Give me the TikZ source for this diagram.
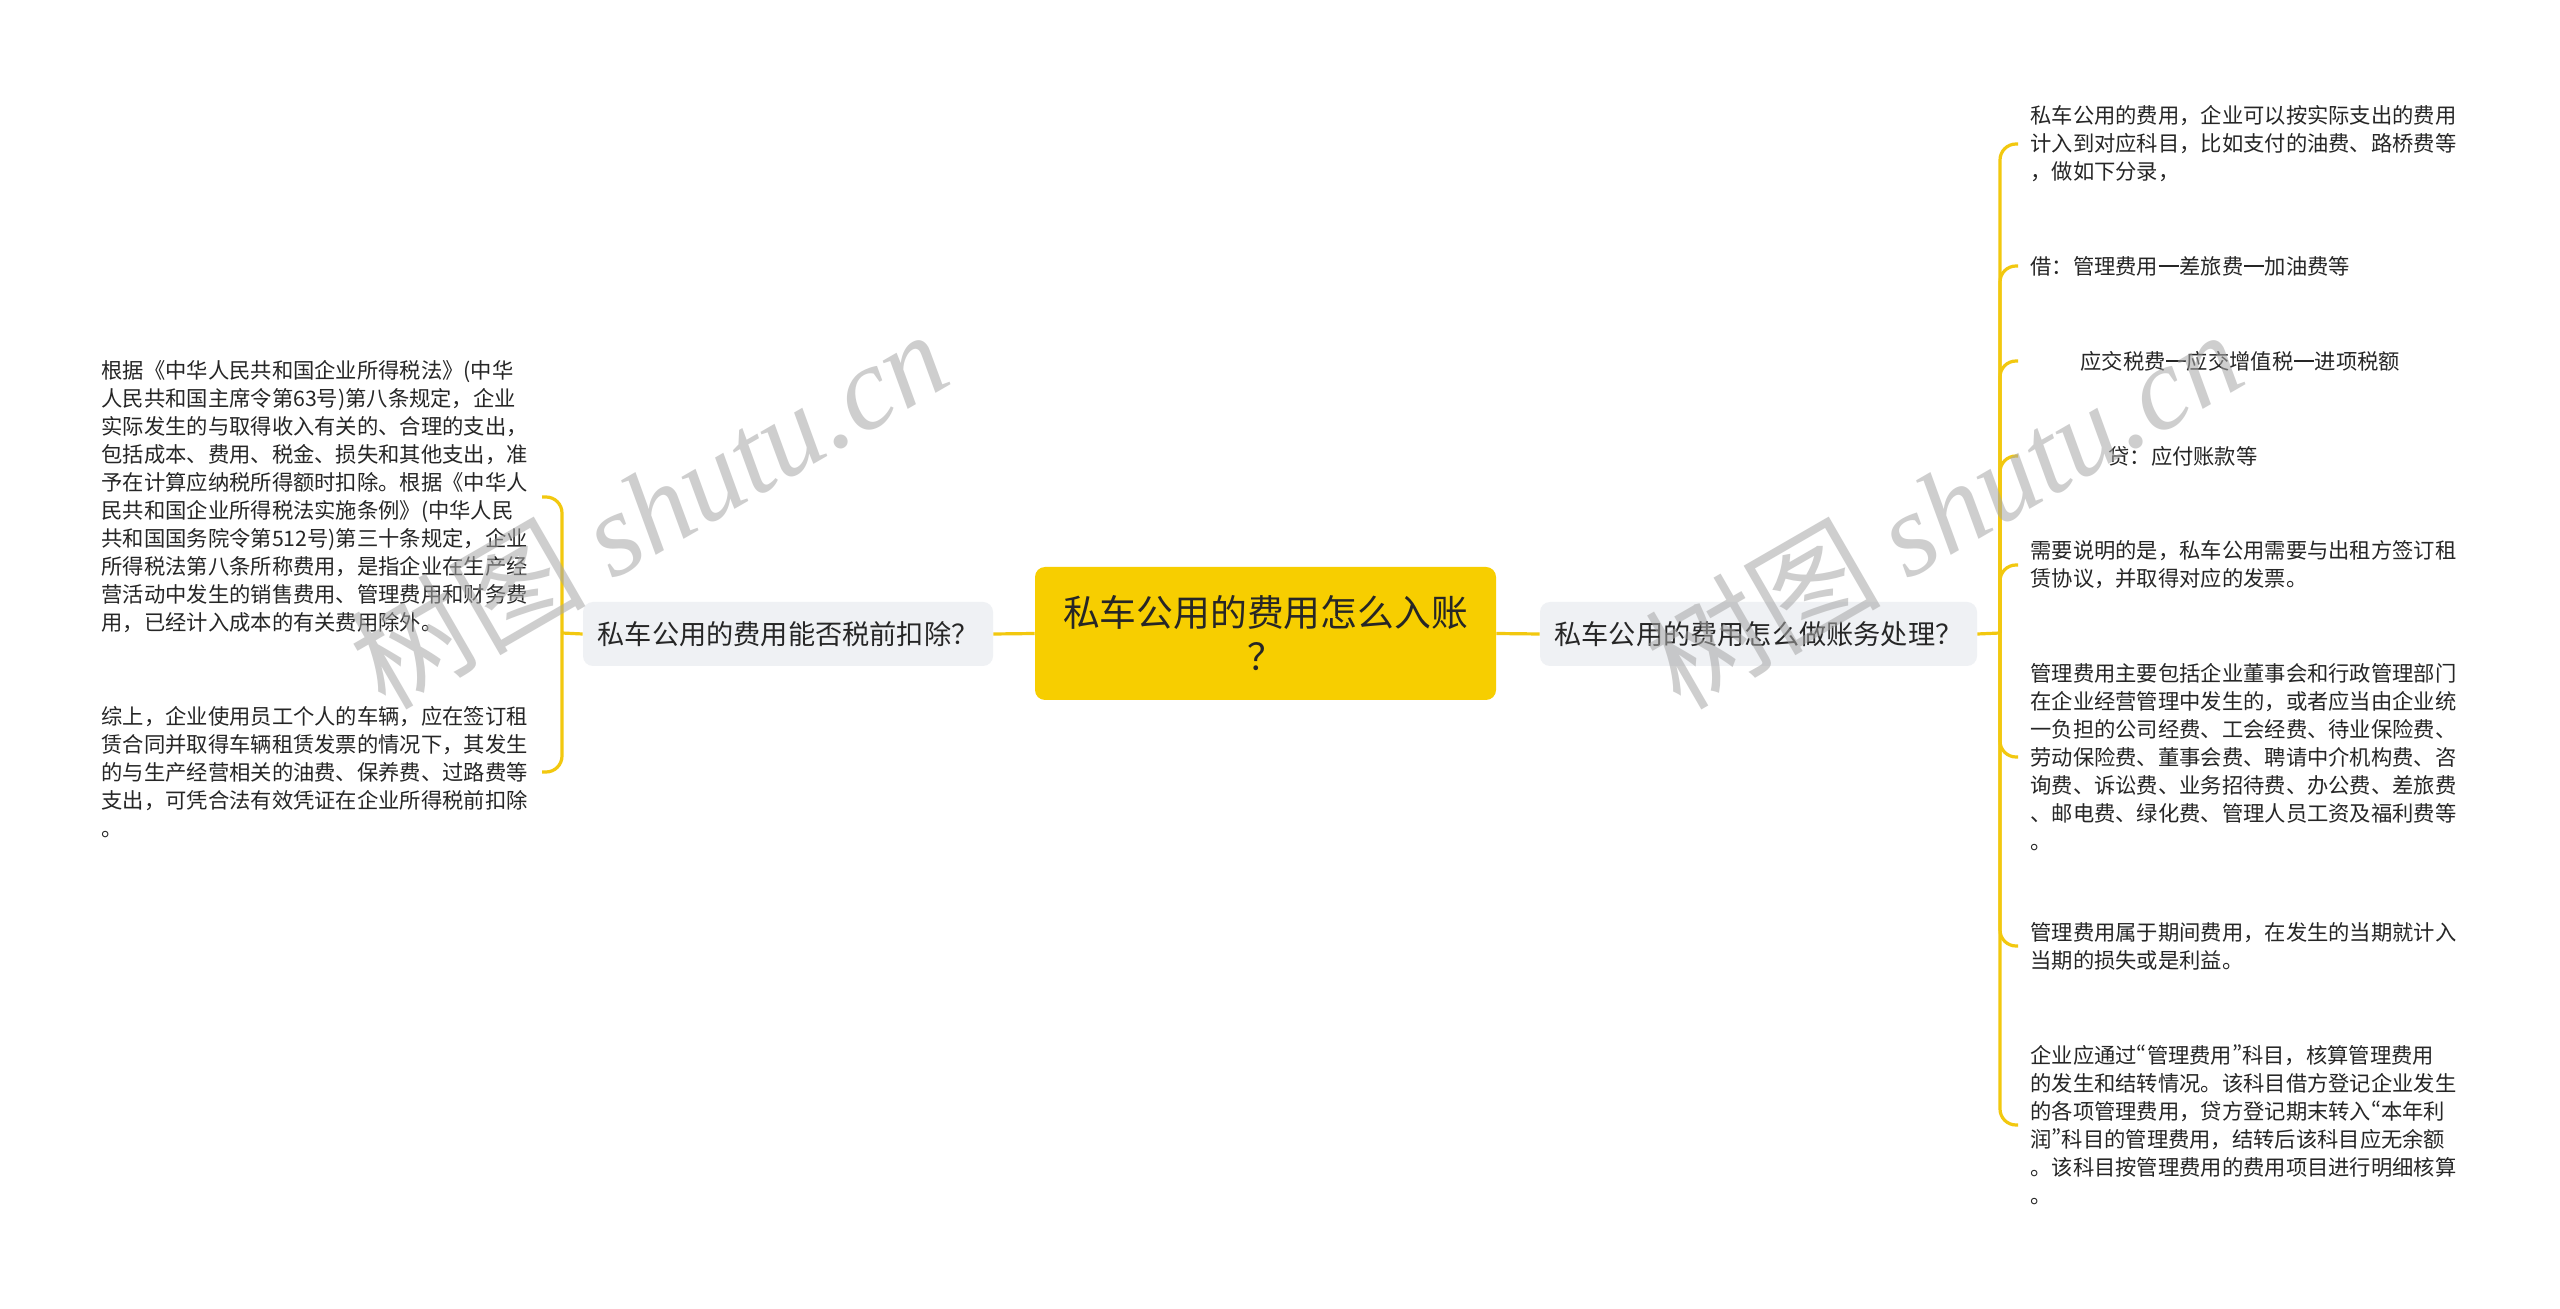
\documentclass[tikz,border=0pt]{standalone}
\usepackage{fontspec}
\setmainfont{Noto Sans CJK SC}
\newfontfamily\wmlatin{Liberation Serif}
\usepackage{tikz}
\definecolor{linkyellow}{HTML}{F2C80F}
\definecolor{rootyellow}{HTML}{F7CE00}
\definecolor{branchgray}{HTML}{EFF1F4}
\definecolor{inkgray}{HTML}{262626}
\newcommand\fdash{\hspace{0.03em}\rule[0.35em]{0.94em}{0.06em}\hspace{0.03em}}
\newcommand\oquote{{\addfontfeature{RawFeature=+pwid}“}}
\newcommand\cquote{{\addfontfeature{RawFeature=+pwid}”}}

\begin{document}
\begin{tikzpicture}[x=0.5pt,y=-0.5pt,every node/.style={text=inkgray},root/.style={fill=rootyellow, rounded corners=5pt, minimum width=230.5pt, minimum height=66.5pt, align=center, font=\fontsize{18.4pt}{22pt}\selectfont},branch/.style={fill=branchgray, rounded corners=5pt, minimum height=32pt, font=\fontsize{13.6pt}{16pt}\selectfont},leaf/.style={text width=214pt, align=left, inner xsep=6pt, inner ysep=2pt, font=\fontsize{10.65pt}{14pt}\selectfont},link/.style={draw=linkyellow, line width=1.6pt, rounded corners=8pt},wmark/.style={text=black!35, opacity=0.55, font=\fontsize{59pt}{59pt}\selectfont}]
	
	\fill[white] (0,0) rectangle (2560,1309);
	\useasboundingbox (0,0) rectangle (2560,1309);
	
	\node[root] (root) at (1265.5,633.5) {私车公用的费用怎么入账\\？};
	\node[branch, minimum width=205pt] (lb) at (788,634) {私车公用的费用能否税前扣除？};
	\node[branch, minimum width=218.5pt] (rb) at (1758.5,634) {私车公用的费用怎么做账务处理？};
	
	\node[leaf, anchor=east] (l1) at (542,497) {根据《中华人民共和国企业所得税法》(中华\\人民共和国主席令第63号)第八条规定，企业\\实际发生的与取得收入有关的、合理的支出，\\包括成本、费用、税金、损失和其他支出，准\\予在计算应纳税所得额时扣除。根据《中华人\\民共和国企业所得税法实施条例》(中华人民\\共和国国务院令第512号)第三十条规定，企业\\所得税法第八条所称费用，是指企业在生产经\\营活动中发生的销售费用、管理费用和财务费\\用，已经计入成本的有关费用除外。};
	\node[leaf, anchor=east] (l2) at (542,772) {综上，企业使用员工个人的车辆，应在签订租\\赁合同并取得车辆租赁发票的情况下，其发生\\的与生产经营相关的油费、保养费、过路费等\\支出，可凭合法有效凭证在企业所得税前扣除\\。};
	
	\node[leaf, anchor=west] (r1) at (2018,144) {私车公用的费用，企业可以按实际支出的费用\\计入到对应科目，比如支付的油费、路桥费等\\，做如下分录，};
	\node[leaf, anchor=west] (r2) at (2018,266) {借：管理费用\fdash 差旅费\fdash 加油费等};
	\node[leaf, anchor=west] (r3) at (2018,361) {\hspace*{25pt}应交税费\fdash 应交增值税\fdash 进项税额};
	\node[leaf, anchor=west] (r4) at (2018,456) {\hspace*{39pt}贷：应付账款等};
	\node[leaf, anchor=west] (r5) at (2018,565) {需要说明的是，私车公用需要与出租方签订租\\赁协议，并取得对应的发票。};
	\node[leaf, anchor=west] (r6) at (2018,757) {管理费用主要包括企业董事会和行政管理部门\\在企业经营管理中发生的，或者应当由企业统\\一负担的公司经费、工会经费、待业保险费、\\劳动保险费、董事会费、聘请中介机构费、咨\\询费、诉讼费、业务招待费、办公费、差旅费\\、邮电费、绿化费、管理人员工资及福利费等\\。};
	\node[leaf, anchor=west] (r7) at (2018,946) {管理费用属于期间费用，在发生的当期就计入\\当期的损失或是利益。};
	\node[leaf, anchor=west] (r8) at (2018,1125) {企业应通过\oquote 管理费用\cquote 科目，核算管理费用\\的发生和结转情况。该科目借方登记企业发生\\的各项管理费用，贷方登记期末转入\oquote 本年利\\润\cquote 科目的管理费用，结转后该科目应无余额\\。该科目按管理费用的费用项目进行明细核算\\。};
	
	\coordinate (lj) at (562,633);
	\coordinate (rj) at (2000,633);
	\draw[link] (root.west) -- (lb.east);
	\draw[link] (root.east) -- (rb.west);
	\draw[link] (lb.west) -- (lj);
	\draw[link] (rb.east) -- (rj);
	\foreach \i in {1,2}
		\draw[link] (lj) |- (l\i.east);
	\foreach \i in {1,...,8}
		\draw[link] (rj) |- (r\i.west);
	
	\node[wmark, rotate=30] (wm1) at (648,508) {树图 {\wmlatin\itshape shutu.cn}};
	\node[wmark, rotate=30] (wm2) at (1943,508) {树图 {\wmlatin\itshape shutu.cn}};
	
\end{tikzpicture}
\end{document}
